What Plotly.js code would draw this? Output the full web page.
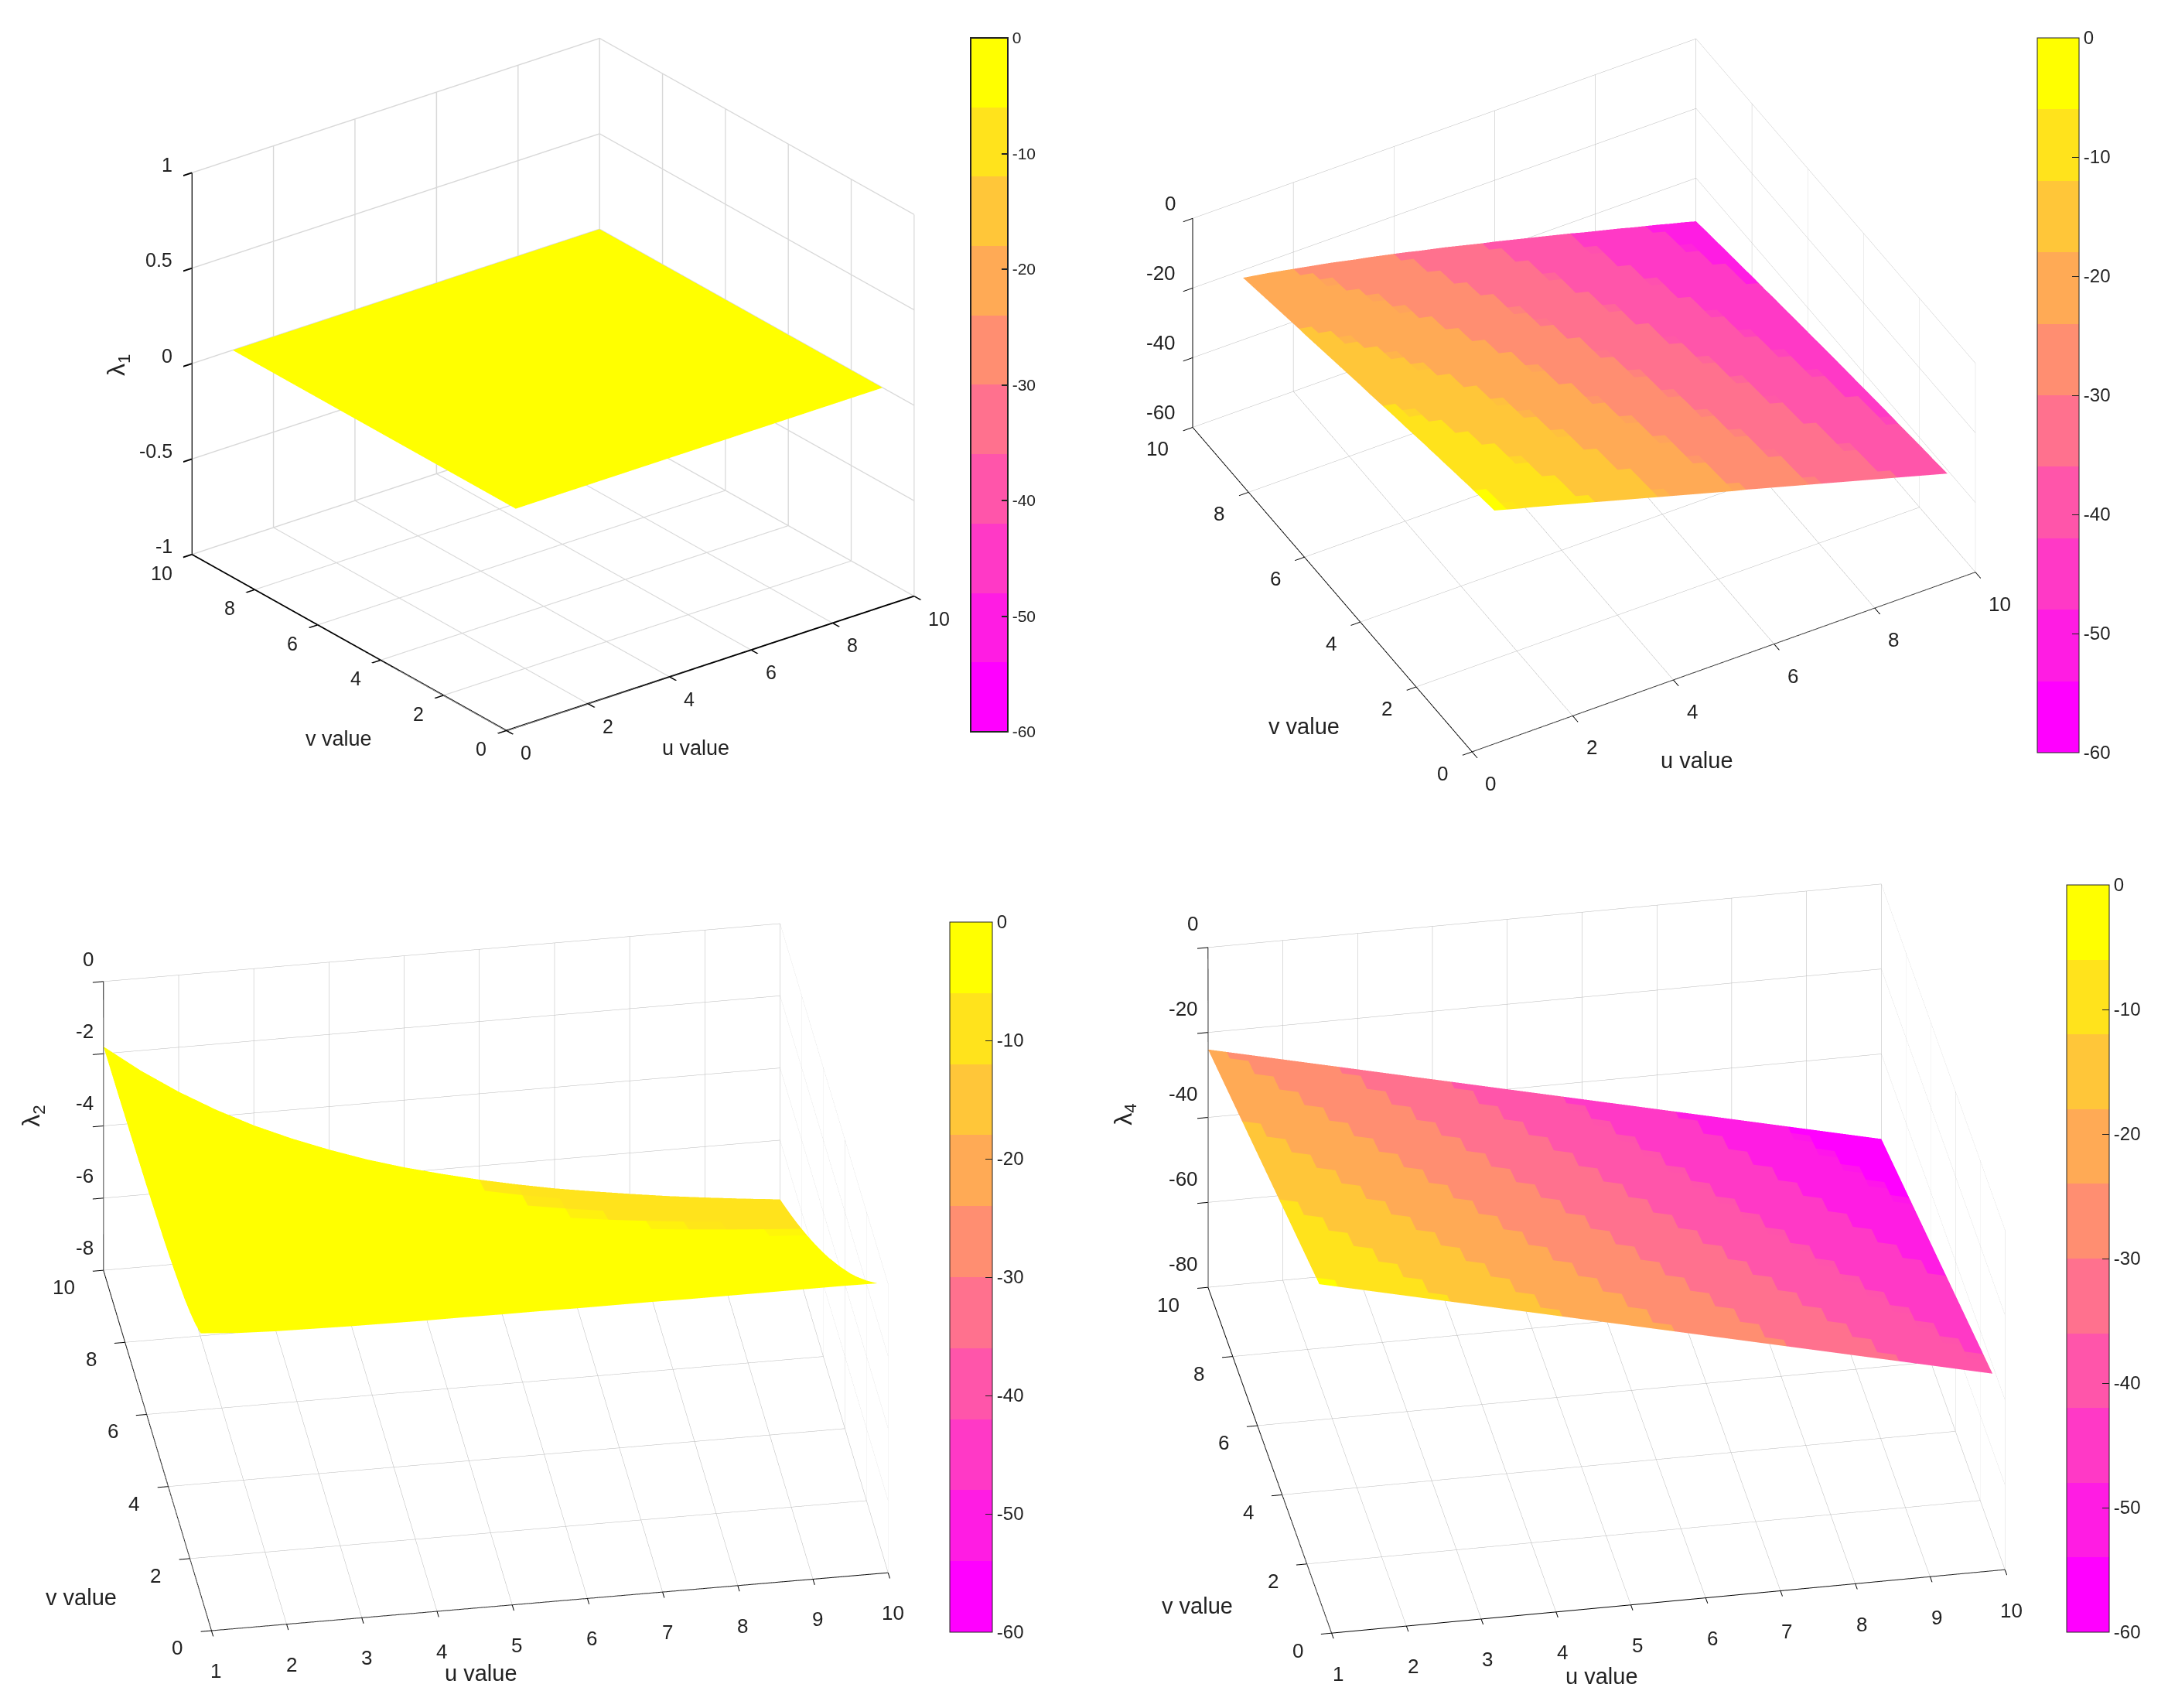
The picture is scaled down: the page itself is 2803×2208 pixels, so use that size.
<!DOCTYPE html>
<html><head><meta charset="utf-8"><script src="https://cdn.plot.ly/plotly-3.0.1.min.js"></script>
<style>html,body{margin:0;padding:0;background:#fff}</style></head><body><div id="c" style="width:2803px;height:2208px"></div>
<script>
const W=2803,H=2208;
const bandColors=['#ff00ff','#ff1ce3','#ff39c6','#ff55aa','#ff718e','#ff8e71','#ffaa55','#ffc639','#ffe31c','#ffff00'];
const cbTicks=[0,-10,-20,-30,-40,-50,-60];
const uFlat=[1,10],vFlat=[1,10];
const zLambda1=[[0,0],[0,0]];
const uGrid=[1,1.5,2,2.5,3,3.5,4,4.5,5,5.5,6,6.5,7,7.5,8,8.5,9,9.5,10];
const vGrid=[1,1.5,2,2.5,3,3.5,4,4.5,5,5.5,6,6.5,7,7.5,8,8.5,9,9.5,10];
const uFine=[1,1.25,1.5,1.75,2,2.25,2.5,2.75,3,3.25,3.5,3.75,4,4.25,4.5,4.75,5,5.25,5.5,5.75,6,6.25,6.5,6.75,7,7.25,7.5,7.75,8,8.25,8.5,8.75,9,9.25,9.5,9.75,10];
const vFine=[1,1.25,1.5,1.75,2,2.25,2.5,2.75,3,3.25,3.5,3.75,4,4.25,4.5,4.75,5,5.25,5.5,5.75,6,6.25,6.5,6.75,7,7.25,7.5,7.75,8,8.25,8.5,8.75,9,9.25,9.5,9.75,10];
// each row is one u value, each column one v value
const zLambda3=[
[-5.2,-5.6,-6,-6.4,-6.8,-7.3,-7.7,-8.2,-8.6,-9.1,-9.5,-10,-10.5,-11,-11.4,-11.9,-12.4,-12.9,-13.4,-13.8,-14.3,-14.8,-15.3,-15.8,-16.3,-16.8,-17.3,-17.8,-18.2,-18.7,-19.2,-19.7,-20.2,-20.7,-21.2,-21.7,-22.2],
[-6.2,-6.6,-6.9,-7.3,-7.7,-8.1,-8.6,-9,-9.4,-9.9,-10.3,-10.8,-11.2,-11.7,-12.2,-12.6,-13.1,-13.6,-14.1,-14.5,-15,-15.5,-16,-16.5,-17,-17.4,-17.9,-18.4,-18.9,-19.4,-19.9,-20.4,-20.9,-21.4,-21.8,-22.3,-22.8],
[-7.2,-7.5,-7.9,-8.2,-8.6,-9,-9.4,-9.8,-10.2,-10.7,-11.1,-11.6,-12,-12.5,-12.9,-13.4,-13.8,-14.3,-14.8,-15.2,-15.7,-16.2,-16.7,-17.1,-17.6,-18.1,-18.6,-19.1,-19.5,-20,-20.5,-21,-21.5,-22,-22.5,-23,-23.4],
[-8.1,-8.5,-8.8,-9.2,-9.5,-9.9,-10.3,-10.7,-11.1,-11.5,-12,-12.4,-12.8,-13.3,-13.7,-14.2,-14.6,-15.1,-15.5,-16,-16.5,-16.9,-17.4,-17.9,-18.3,-18.8,-19.3,-19.8,-20.2,-20.7,-21.2,-21.7,-22.2,-22.6,-23.1,-23.6,-24.1],
[-9.1,-9.4,-9.8,-10.1,-10.5,-10.8,-11.2,-11.6,-12,-12.4,-12.8,-13.2,-13.7,-14.1,-14.5,-15,-15.4,-15.9,-16.3,-16.8,-17.2,-17.7,-18.1,-18.6,-19.1,-19.5,-20,-20.5,-20.9,-21.4,-21.9,-22.4,-22.9,-23.3,-23.8,-24.3,-24.8],
[-10.1,-10.4,-10.8,-11.1,-11.4,-11.8,-12.2,-12.5,-12.9,-13.3,-13.7,-14.1,-14.5,-15,-15.4,-15.8,-16.2,-16.7,-17.1,-17.6,-18,-18.5,-18.9,-19.4,-19.8,-20.3,-20.8,-21.2,-21.7,-22.2,-22.6,-23.1,-23.6,-24.1,-24.5,-25,-25.5],
[-11.1,-11.4,-11.7,-12.1,-12.4,-12.8,-13.1,-13.5,-13.8,-14.2,-14.6,-15,-15.4,-15.8,-16.2,-16.7,-17.1,-17.5,-17.9,-18.4,-18.8,-19.3,-19.7,-20.2,-20.6,-21.1,-21.5,-22,-22.4,-22.9,-23.4,-23.8,-24.3,-24.8,-25.2,-25.7,-26.2],
[-12.1,-12.4,-12.7,-13,-13.4,-13.7,-14.1,-14.4,-14.8,-15.1,-15.5,-15.9,-16.3,-16.7,-17.1,-17.5,-17.9,-18.4,-18.8,-19.2,-19.7,-20.1,-20.5,-21,-21.4,-21.9,-22.3,-22.8,-23.2,-23.7,-24.1,-24.6,-25.1,-25.5,-26,-26.5,-26.9],
[-13.1,-13.4,-13.7,-14,-14.3,-14.7,-15,-15.4,-15.7,-16.1,-16.5,-16.8,-17.2,-17.6,-18,-18.4,-18.8,-19.2,-19.7,-20.1,-20.5,-21,-21.4,-21.8,-22.3,-22.7,-23.2,-23.6,-24.1,-24.5,-25,-25.4,-25.8,-26.3,-26.7,-27.2,-27.7],
[-14.1,-14.4,-14.7,-15,-15.3,-15.6,-16,-16.3,-16.6,-17,-17.4,-17.7,-18.1,-18.5,-18.9,-19.3,-19.7,-20.1,-20.5,-21,-21.4,-21.8,-22.2,-22.7,-23.1,-23.5,-24,-24.4,-24.8,-25.3,-25.7,-26.2,-26.6,-27.1,-27.5,-28,-28.5],
[-15.1,-15.4,-15.7,-16,-16.3,-16.6,-16.9,-17.3,-17.6,-18,-18.3,-18.7,-19.1,-19.4,-19.8,-20.2,-20.6,-21,-21.4,-21.8,-22.2,-22.6,-23.1,-23.5,-23.9,-24.3,-24.8,-25.2,-25.6,-26.1,-26.5,-27,-27.4,-27.9,-28.3,-28.8,-29.2],
[-16.1,-16.4,-16.7,-17,-17.3,-17.6,-17.9,-18.2,-18.5,-18.9,-19.3,-19.6,-20,-20.4,-20.8,-21.1,-21.5,-21.9,-22.3,-22.7,-23.1,-23.5,-23.9,-24.3,-24.8,-25.2,-25.6,-26.1,-26.5,-26.9,-27.3,-27.8,-28.2,-28.7,-29.1,-29.6,-30],
[-17.1,-17.4,-17.6,-17.9,-18.3,-18.6,-18.9,-19.2,-19.5,-19.9,-20.2,-20.6,-20.9,-21.3,-21.7,-22.1,-22.4,-22.8,-23.2,-23.6,-24,-24.4,-24.8,-25.2,-25.6,-26,-26.5,-26.9,-27.3,-27.7,-28.2,-28.6,-29,-29.5,-29.9,-30.4,-30.8],
[-18.1,-18.3,-18.6,-18.9,-19.2,-19.6,-19.9,-20.2,-20.5,-20.9,-21.2,-21.5,-21.9,-22.3,-22.6,-23,-23.4,-23.7,-24.1,-24.5,-24.9,-25.3,-25.7,-26.1,-26.5,-26.9,-27.4,-27.8,-28.2,-28.6,-29,-29.5,-29.9,-30.3,-30.8,-31.2,-31.6],
[-19.1,-19.3,-19.6,-19.9,-20.2,-20.5,-20.9,-21.2,-21.5,-21.9,-22.2,-22.5,-22.9,-23.2,-23.6,-24,-24.3,-24.7,-25.1,-25.5,-25.8,-26.2,-26.6,-27,-27.4,-27.8,-28.2,-28.7,-29,-29.5,-29.9,-30.3,-30.7,-31.2,-31.6,-32,-32.5],
[-20.1,-20.3,-20.6,-20.9,-21.2,-21.5,-21.8,-22.2,-22.5,-22.8,-23.1,-23.5,-23.8,-24.2,-24.5,-24.9,-25.2,-25.6,-26,-26.4,-26.7,-27.1,-27.5,-27.9,-28.3,-28.7,-29.1,-29.5,-29.9,-30.3,-30.8,-31.2,-31.6,-32,-32.4,-32.9,-33.3],
[-21.1,-21.3,-21.6,-21.9,-22.2,-22.5,-22.8,-23.1,-23.4,-23.8,-24.1,-24.4,-24.8,-25.1,-25.5,-25.8,-26.2,-26.5,-26.9,-27.3,-27.7,-28,-28.4,-28.8,-29.2,-29.6,-30,-30.4,-30.8,-31.2,-31.6,-32,-32.5,-32.9,-33.3,-33.7,-34.1],
[-22.1,-22.3,-22.6,-22.9,-23.2,-23.5,-23.8,-24.1,-24.4,-24.7,-25.1,-25.4,-25.7,-26.1,-26.4,-26.8,-27.1,-27.5,-27.9,-28.2,-28.6,-29,-29.4,-29.8,-30.1,-30.5,-30.9,-31.3,-31.7,-32.1,-32.5,-32.9,-33.3,-33.7,-34.2,-34.6,-35],
[-23.1,-23.3,-23.6,-23.9,-24.2,-24.5,-24.8,-25.1,-25.4,-25.7,-26,-26.4,-26.7,-27,-27.4,-27.7,-28.1,-28.5,-28.8,-29.2,-29.5,-29.9,-30.3,-30.7,-31,-31.4,-31.8,-32.2,-32.6,-33,-33.4,-33.8,-34.2,-34.6,-35,-35.4,-35.9],
[-24.1,-24.3,-24.6,-24.9,-25.2,-25.5,-25.8,-26.1,-26.4,-26.7,-27,-27.3,-27.7,-28,-28.4,-28.7,-29,-29.4,-29.8,-30.1,-30.5,-30.9,-31.2,-31.6,-32,-32.4,-32.7,-33.1,-33.5,-33.9,-34.3,-34.7,-35.1,-35.5,-35.9,-36.3,-36.8],
[-25,-25.3,-25.6,-25.9,-26.2,-26.5,-26.8,-27,-27.4,-27.7,-28,-28.3,-28.7,-29,-29.3,-29.7,-30,-30.3,-30.7,-31.1,-31.4,-31.8,-32.2,-32.5,-32.9,-33.3,-33.7,-34,-34.4,-34.8,-35.2,-35.6,-36,-36.4,-36.8,-37.2,-37.6],
[-26,-26.3,-26.6,-26.9,-27.2,-27.4,-27.8,-28,-28.4,-28.7,-29,-29.3,-29.6,-30,-30.3,-30.6,-31,-31.3,-31.7,-32,-32.4,-32.7,-33.1,-33.5,-33.8,-34.2,-34.6,-35,-35.3,-35.7,-36.1,-36.5,-36.9,-37.3,-37.7,-38.1,-38.5],
[-27,-27.3,-27.6,-27.9,-28.2,-28.4,-28.7,-29,-29.3,-29.6,-30,-30.3,-30.6,-31,-31.3,-31.6,-31.9,-32.3,-32.6,-33,-33.3,-33.7,-34,-34.4,-34.8,-35.1,-35.5,-35.9,-36.3,-36.6,-37,-37.4,-37.8,-38.2,-38.6,-39,-39.4],
[-28,-28.3,-28.6,-28.9,-29.2,-29.4,-29.7,-30,-30.3,-30.6,-30.9,-31.3,-31.6,-31.9,-32.2,-32.6,-32.9,-33.2,-33.6,-33.9,-34.3,-34.6,-35,-35.3,-35.7,-36.1,-36.4,-36.8,-37.2,-37.6,-38,-38.3,-38.7,-39.1,-39.5,-39.9,-40.3],
[-29,-29.3,-29.6,-29.9,-30.1,-30.4,-30.7,-31,-31.3,-31.6,-31.9,-32.2,-32.6,-32.9,-33.2,-33.5,-33.9,-34.2,-34.5,-34.9,-35.2,-35.6,-35.9,-36.3,-36.7,-37,-37.4,-37.8,-38.1,-38.5,-38.9,-39.3,-39.6,-40,-40.4,-40.8,-41.2],
[-30,-30.3,-30.6,-30.9,-31.1,-31.4,-31.7,-32,-32.3,-32.6,-32.9,-33.2,-33.5,-33.9,-34.2,-34.5,-34.8,-35.2,-35.5,-35.9,-36.2,-36.6,-36.9,-37.2,-37.6,-38,-38.3,-38.7,-39.1,-39.4,-39.8,-40.2,-40.6,-41,-41.3,-41.7,-42.1],
[-31,-31.3,-31.6,-31.9,-32.1,-32.4,-32.7,-33,-33.3,-33.6,-33.9,-34.2,-34.5,-34.8,-35.2,-35.5,-35.8,-36.1,-36.5,-36.8,-37.2,-37.5,-37.8,-38.2,-38.6,-38.9,-39.3,-39.6,-40,-40.4,-40.7,-41.1,-41.5,-41.9,-42.3,-42.6,-43],
[-32,-32.3,-32.6,-32.9,-33.1,-33.4,-33.7,-34,-34.3,-34.6,-34.9,-35.2,-35.5,-35.8,-36.1,-36.5,-36.8,-37.1,-37.5,-37.8,-38.1,-38.5,-38.8,-39.2,-39.5,-39.9,-40.2,-40.6,-41,-41.3,-41.7,-42.1,-42.4,-42.8,-43.2,-43.6,-44],
[-33,-33.3,-33.6,-33.9,-34.1,-34.4,-34.7,-35,-35.3,-35.6,-35.9,-36.2,-36.5,-36.8,-37.1,-37.4,-37.8,-38.1,-38.4,-38.8,-39.1,-39.4,-39.8,-40.1,-40.5,-40.8,-41.2,-41.5,-41.9,-42.3,-42.6,-43,-43.4,-43.7,-44.1,-44.5,-44.9],
[-34,-34.3,-34.6,-34.8,-35.1,-35.4,-35.7,-36,-36.3,-36.6,-36.9,-37.2,-37.5,-37.8,-38.1,-38.4,-38.7,-39.1,-39.4,-39.7,-40.1,-40.4,-40.7,-41.1,-41.4,-41.8,-42.1,-42.5,-42.8,-43.2,-43.6,-43.9,-44.3,-44.7,-45,-45.4,-45.8],
[-35,-35.3,-35.6,-35.8,-36.1,-36.4,-36.7,-37,-37.3,-37.6,-37.9,-38.2,-38.5,-38.8,-39.1,-39.4,-39.7,-40,-40.4,-40.7,-41,-41.3,-41.7,-42,-42.4,-42.7,-43.1,-43.4,-43.8,-44.1,-44.5,-44.9,-45.2,-45.6,-46,-46.3,-46.7],
[-36,-36.3,-36.6,-36.8,-37.1,-37.4,-37.7,-38,-38.3,-38.5,-38.9,-39.1,-39.5,-39.8,-40.1,-40.4,-40.7,-41,-41.4,-41.7,-42,-42.3,-42.7,-43,-43.4,-43.7,-44,-44.4,-44.8,-45.1,-45.5,-45.8,-46.2,-46.5,-46.9,-47.3,-47.7],
[-37,-37.3,-37.6,-37.8,-38.1,-38.4,-38.7,-39,-39.3,-39.5,-39.8,-40.1,-40.4,-40.8,-41.1,-41.4,-41.7,-42,-42.3,-42.6,-43,-43.3,-43.6,-44,-44.3,-44.7,-45,-45.4,-45.7,-46.1,-46.4,-46.8,-47.1,-47.5,-47.9,-48.2,-48.6],
[-38,-38.3,-38.6,-38.8,-39.1,-39.4,-39.7,-40,-40.3,-40.5,-40.8,-41.1,-41.4,-41.7,-42,-42.4,-42.7,-43,-43.3,-43.6,-44,-44.3,-44.6,-44.9,-45.3,-45.6,-46,-46.3,-46.7,-47,-47.4,-47.7,-48.1,-48.4,-48.8,-49.2,-49.5],
[-39,-39.3,-39.6,-39.8,-40.1,-40.4,-40.7,-41,-41.2,-41.5,-41.8,-42.1,-42.4,-42.7,-43,-43.3,-43.7,-44,-44.3,-44.6,-44.9,-45.2,-45.6,-45.9,-46.2,-46.6,-46.9,-47.2,-47.6,-47.9,-48.3,-48.6,-49,-49.3,-49.7,-50.1,-50.5],
[-40,-40.3,-40.6,-40.8,-41.1,-41.4,-41.7,-42,-42.2,-42.5,-42.8,-43.1,-43.4,-43.7,-44,-44.3,-44.6,-45,-45.3,-45.6,-45.9,-46.2,-46.6,-46.9,-47.2,-47.6,-47.9,-48.2,-48.6,-48.9,-49.3,-49.6,-50,-50.3,-50.7,-51.1,-51.4],
[-41,-41.3,-41.6,-41.8,-42.1,-42.4,-42.7,-43,-43.2,-43.5,-43.8,-44.1,-44.4,-44.7,-45,-45.3,-45.6,-45.9,-46.2,-46.6,-46.9,-47.2,-47.5,-47.9,-48.2,-48.5,-48.9,-49.2,-49.5,-49.9,-50.2,-50.6,-50.9,-51.3,-51.6,-52,-52.4]];
const zLambda2=[
[-0.76,-1,-1.17,-1.3,-1.39,-1.47,-1.53,-1.58,-1.61,-1.65,-1.68,-1.7,-1.72,-1.74,-1.75,-1.77,-1.78,-1.79,-1.8],
[-0.84,-1.15,-1.39,-1.59,-1.76,-1.89,-2,-2.09,-2.17,-2.24,-2.29,-2.34,-2.38,-2.42,-2.46,-2.49,-2.51,-2.54,-2.56],
[-0.88,-1.23,-1.53,-1.78,-2,-2.18,-2.34,-2.48,-2.6,-2.7,-2.79,-2.87,-2.94,-3,-3.06,-3.11,-3.15,-3.19,-3.23],
[-0.9,-1.28,-1.61,-1.91,-2.17,-2.4,-2.6,-2.77,-2.93,-3.07,-3.19,-3.3,-3.4,-3.49,-3.57,-3.64,-3.7,-3.76,-3.82],
[-0.92,-1.32,-1.68,-2,-2.29,-2.55,-2.79,-3,-3.19,-3.36,-3.51,-3.65,-3.78,-3.9,-4,-4.1,-4.18,-4.26,-4.34],
[-0.93,-1.34,-1.72,-2.07,-2.38,-2.67,-2.94,-3.18,-3.4,-3.6,-3.78,-3.95,-4.1,-4.24,-4.37,-4.49,-4.6,-4.7,-4.79],
[-0.94,-1.36,-1.75,-2.12,-2.46,-2.77,-3.06,-3.32,-3.57,-3.79,-4,-4.19,-4.37,-4.53,-4.69,-4.83,-4.96,-5.08,-5.19],
[-0.94,-1.38,-1.78,-2.16,-2.51,-2.84,-3.15,-3.44,-3.7,-3.95,-4.18,-4.4,-4.6,-4.78,-4.96,-5.12,-5.27,-5.41,-5.55],
[-0.95,-1.39,-1.8,-2.19,-2.56,-2.91,-3.23,-3.53,-3.82,-4.09,-4.34,-4.57,-4.79,-5,-5.19,-5.38,-5.55,-5.71,-5.86],
[-0.95,-1.4,-1.82,-2.22,-2.6,-2.96,-3.3,-3.62,-3.92,-4.2,-4.47,-4.72,-4.96,-5.19,-5.4,-5.6,-5.79,-5.97,-6.13],
[-0.96,-1.41,-1.83,-2.24,-2.63,-3,-3.35,-3.68,-4,-4.3,-4.58,-4.85,-5.11,-5.35,-5.58,-5.79,-6,-6.19,-6.38],
[-0.96,-1.41,-1.85,-2.26,-2.66,-3.04,-3.4,-3.74,-4.07,-4.38,-4.68,-4.97,-5.24,-5.49,-5.74,-5.97,-6.19,-6.4,-6.6],
[-0.96,-1.42,-1.86,-2.28,-2.68,-3.07,-3.44,-3.79,-4.13,-4.46,-4.77,-5.06,-5.35,-5.62,-5.88,-6.12,-6.36,-6.58,-6.8],
[-0.97,-1.43,-1.87,-2.29,-2.7,-3.1,-3.48,-3.84,-4.19,-4.52,-4.84,-5.15,-5.45,-5.73,-6,-6.26,-6.51,-6.74,-6.97],
[-0.97,-1.43,-1.88,-2.31,-2.72,-3.12,-3.51,-3.88,-4.24,-4.58,-4.91,-5.23,-5.54,-5.83,-6.11,-6.38,-6.64,-6.89,-7.13],
[-0.97,-1.43,-1.88,-2.32,-2.74,-3.14,-3.54,-3.91,-4.28,-4.63,-4.97,-5.3,-5.62,-5.92,-6.21,-6.49,-6.76,-7.03,-7.28],
[-0.97,-1.44,-1.89,-2.33,-2.75,-3.16,-3.56,-3.95,-4.32,-4.68,-5.03,-5.36,-5.69,-6,-6.3,-6.59,-6.88,-7.15,-7.41],
[-0.97,-1.44,-1.9,-2.34,-2.76,-3.18,-3.58,-3.97,-4.35,-4.72,-5.08,-5.42,-5.75,-6.07,-6.38,-6.69,-6.98,-7.26,-7.53],
[-0.98,-1.44,-1.9,-2.34,-2.78,-3.2,-3.6,-4,-4.38,-4.76,-5.12,-5.47,-5.81,-6.14,-6.46,-6.77,-7.07,-7.36,-7.64]];
const zLambda4=[
[-6,-6.5,-7,-7.5,-8,-8.5,-9,-9.5,-10,-10.5,-11,-11.5,-12,-12.5,-13,-13.5,-14,-14.5,-15,-15.5,-16,-16.5,-17,-17.5,-18,-18.5,-19,-19.5,-20,-20.5,-21,-21.5,-22,-22.5,-23,-23.5,-24],
[-7,-7.5,-8,-8.5,-9,-9.5,-10,-10.5,-11,-11.5,-12,-12.5,-13,-13.5,-14,-14.5,-15,-15.5,-16,-16.5,-17,-17.5,-18,-18.5,-19,-19.5,-20,-20.5,-21,-21.5,-22,-22.5,-23,-23.5,-24,-24.5,-25],
[-8,-8.5,-9,-9.5,-10,-10.5,-11,-11.5,-12,-12.5,-13,-13.5,-14,-14.5,-15,-15.5,-16,-16.5,-17,-17.5,-18,-18.5,-19,-19.5,-20,-20.5,-21,-21.5,-22,-22.5,-23,-23.5,-24,-24.5,-25,-25.5,-26],
[-9,-9.5,-10,-10.5,-11,-11.5,-12,-12.5,-13,-13.5,-14,-14.5,-15,-15.5,-16,-16.5,-17,-17.5,-18,-18.5,-19,-19.5,-20,-20.5,-21,-21.5,-22,-22.5,-23,-23.5,-24,-24.5,-25,-25.5,-26,-26.5,-27],
[-10,-10.5,-11,-11.5,-12,-12.5,-13,-13.5,-14,-14.5,-15,-15.5,-16,-16.5,-17,-17.5,-18,-18.5,-19,-19.5,-20,-20.5,-21,-21.5,-22,-22.5,-23,-23.5,-24,-24.5,-25,-25.5,-26,-26.5,-27,-27.5,-28],
[-11,-11.5,-12,-12.5,-13,-13.5,-14,-14.5,-15,-15.5,-16,-16.5,-17,-17.5,-18,-18.5,-19,-19.5,-20,-20.5,-21,-21.5,-22,-22.5,-23,-23.5,-24,-24.5,-25,-25.5,-26,-26.5,-27,-27.5,-28,-28.5,-29],
[-12,-12.5,-13,-13.5,-14,-14.5,-15,-15.5,-16,-16.5,-17,-17.5,-18,-18.5,-19,-19.5,-20,-20.5,-21,-21.5,-22,-22.5,-23,-23.5,-24,-24.5,-25,-25.5,-26,-26.5,-27,-27.5,-28,-28.5,-29,-29.5,-30],
[-13,-13.5,-14,-14.5,-15,-15.5,-16,-16.5,-17,-17.5,-18,-18.5,-19,-19.5,-20,-20.5,-21,-21.5,-22,-22.5,-23,-23.5,-24,-24.5,-25,-25.5,-26,-26.5,-27,-27.5,-28,-28.5,-29,-29.5,-30,-30.5,-31],
[-14,-14.5,-15,-15.5,-16,-16.5,-17,-17.5,-18,-18.5,-19,-19.5,-20,-20.5,-21,-21.5,-22,-22.5,-23,-23.5,-24,-24.5,-25,-25.5,-26,-26.5,-27,-27.5,-28,-28.5,-29,-29.5,-30,-30.5,-31,-31.5,-32],
[-15,-15.5,-16,-16.5,-17,-17.5,-18,-18.5,-19,-19.5,-20,-20.5,-21,-21.5,-22,-22.5,-23,-23.5,-24,-24.5,-25,-25.5,-26,-26.5,-27,-27.5,-28,-28.5,-29,-29.5,-30,-30.5,-31,-31.5,-32,-32.5,-33],
[-16,-16.5,-17,-17.5,-18,-18.5,-19,-19.5,-20,-20.5,-21,-21.5,-22,-22.5,-23,-23.5,-24,-24.5,-25,-25.5,-26,-26.5,-27,-27.5,-28,-28.5,-29,-29.5,-30,-30.5,-31,-31.5,-32,-32.5,-33,-33.5,-34],
[-17,-17.5,-18,-18.5,-19,-19.5,-20,-20.5,-21,-21.5,-22,-22.5,-23,-23.5,-24,-24.5,-25,-25.5,-26,-26.5,-27,-27.5,-28,-28.5,-29,-29.5,-30,-30.5,-31,-31.5,-32,-32.5,-33,-33.5,-34,-34.5,-35],
[-18,-18.5,-19,-19.5,-20,-20.5,-21,-21.5,-22,-22.5,-23,-23.5,-24,-24.5,-25,-25.5,-26,-26.5,-27,-27.5,-28,-28.5,-29,-29.5,-30,-30.5,-31,-31.5,-32,-32.5,-33,-33.5,-34,-34.5,-35,-35.5,-36],
[-19,-19.5,-20,-20.5,-21,-21.5,-22,-22.5,-23,-23.5,-24,-24.5,-25,-25.5,-26,-26.5,-27,-27.5,-28,-28.5,-29,-29.5,-30,-30.5,-31,-31.5,-32,-32.5,-33,-33.5,-34,-34.5,-35,-35.5,-36,-36.5,-37],
[-20,-20.5,-21,-21.5,-22,-22.5,-23,-23.5,-24,-24.5,-25,-25.5,-26,-26.5,-27,-27.5,-28,-28.5,-29,-29.5,-30,-30.5,-31,-31.5,-32,-32.5,-33,-33.5,-34,-34.5,-35,-35.5,-36,-36.5,-37,-37.5,-38],
[-21,-21.5,-22,-22.5,-23,-23.5,-24,-24.5,-25,-25.5,-26,-26.5,-27,-27.5,-28,-28.5,-29,-29.5,-30,-30.5,-31,-31.5,-32,-32.5,-33,-33.5,-34,-34.5,-35,-35.5,-36,-36.5,-37,-37.5,-38,-38.5,-39],
[-22,-22.5,-23,-23.5,-24,-24.5,-25,-25.5,-26,-26.5,-27,-27.5,-28,-28.5,-29,-29.5,-30,-30.5,-31,-31.5,-32,-32.5,-33,-33.5,-34,-34.5,-35,-35.5,-36,-36.5,-37,-37.5,-38,-38.5,-39,-39.5,-40],
[-23,-23.5,-24,-24.5,-25,-25.5,-26,-26.5,-27,-27.5,-28,-28.5,-29,-29.5,-30,-30.5,-31,-31.5,-32,-32.5,-33,-33.5,-34,-34.5,-35,-35.5,-36,-36.5,-37,-37.5,-38,-38.5,-39,-39.5,-40,-40.5,-41],
[-24,-24.5,-25,-25.5,-26,-26.5,-27,-27.5,-28,-28.5,-29,-29.5,-30,-30.5,-31,-31.5,-32,-32.5,-33,-33.5,-34,-34.5,-35,-35.5,-36,-36.5,-37,-37.5,-38,-38.5,-39,-39.5,-40,-40.5,-41,-41.5,-42],
[-25,-25.5,-26,-26.5,-27,-27.5,-28,-28.5,-29,-29.5,-30,-30.5,-31,-31.5,-32,-32.5,-33,-33.5,-34,-34.5,-35,-35.5,-36,-36.5,-37,-37.5,-38,-38.5,-39,-39.5,-40,-40.5,-41,-41.5,-42,-42.5,-43],
[-26,-26.5,-27,-27.5,-28,-28.5,-29,-29.5,-30,-30.5,-31,-31.5,-32,-32.5,-33,-33.5,-34,-34.5,-35,-35.5,-36,-36.5,-37,-37.5,-38,-38.5,-39,-39.5,-40,-40.5,-41,-41.5,-42,-42.5,-43,-43.5,-44],
[-27,-27.5,-28,-28.5,-29,-29.5,-30,-30.5,-31,-31.5,-32,-32.5,-33,-33.5,-34,-34.5,-35,-35.5,-36,-36.5,-37,-37.5,-38,-38.5,-39,-39.5,-40,-40.5,-41,-41.5,-42,-42.5,-43,-43.5,-44,-44.5,-45],
[-28,-28.5,-29,-29.5,-30,-30.5,-31,-31.5,-32,-32.5,-33,-33.5,-34,-34.5,-35,-35.5,-36,-36.5,-37,-37.5,-38,-38.5,-39,-39.5,-40,-40.5,-41,-41.5,-42,-42.5,-43,-43.5,-44,-44.5,-45,-45.5,-46],
[-29,-29.5,-30,-30.5,-31,-31.5,-32,-32.5,-33,-33.5,-34,-34.5,-35,-35.5,-36,-36.5,-37,-37.5,-38,-38.5,-39,-39.5,-40,-40.5,-41,-41.5,-42,-42.5,-43,-43.5,-44,-44.5,-45,-45.5,-46,-46.5,-47],
[-30,-30.5,-31,-31.5,-32,-32.5,-33,-33.5,-34,-34.5,-35,-35.5,-36,-36.5,-37,-37.5,-38,-38.5,-39,-39.5,-40,-40.5,-41,-41.5,-42,-42.5,-43,-43.5,-44,-44.5,-45,-45.5,-46,-46.5,-47,-47.5,-48],
[-31,-31.5,-32,-32.5,-33,-33.5,-34,-34.5,-35,-35.5,-36,-36.5,-37,-37.5,-38,-38.5,-39,-39.5,-40,-40.5,-41,-41.5,-42,-42.5,-43,-43.5,-44,-44.5,-45,-45.5,-46,-46.5,-47,-47.5,-48,-48.5,-49],
[-32,-32.5,-33,-33.5,-34,-34.5,-35,-35.5,-36,-36.5,-37,-37.5,-38,-38.5,-39,-39.5,-40,-40.5,-41,-41.5,-42,-42.5,-43,-43.5,-44,-44.5,-45,-45.5,-46,-46.5,-47,-47.5,-48,-48.5,-49,-49.5,-50],
[-33,-33.5,-34,-34.5,-35,-35.5,-36,-36.5,-37,-37.5,-38,-38.5,-39,-39.5,-40,-40.5,-41,-41.5,-42,-42.5,-43,-43.5,-44,-44.5,-45,-45.5,-46,-46.5,-47,-47.5,-48,-48.5,-49,-49.5,-50,-50.5,-51],
[-34,-34.5,-35,-35.5,-36,-36.5,-37,-37.5,-38,-38.5,-39,-39.5,-40,-40.5,-41,-41.5,-42,-42.5,-43,-43.5,-44,-44.5,-45,-45.5,-46,-46.5,-47,-47.5,-48,-48.5,-49,-49.5,-50,-50.5,-51,-51.5,-52],
[-35,-35.5,-36,-36.5,-37,-37.5,-38,-38.5,-39,-39.5,-40,-40.5,-41,-41.5,-42,-42.5,-43,-43.5,-44,-44.5,-45,-45.5,-46,-46.5,-47,-47.5,-48,-48.5,-49,-49.5,-50,-50.5,-51,-51.5,-52,-52.5,-53],
[-36,-36.5,-37,-37.5,-38,-38.5,-39,-39.5,-40,-40.5,-41,-41.5,-42,-42.5,-43,-43.5,-44,-44.5,-45,-45.5,-46,-46.5,-47,-47.5,-48,-48.5,-49,-49.5,-50,-50.5,-51,-51.5,-52,-52.5,-53,-53.5,-54],
[-37,-37.5,-38,-38.5,-39,-39.5,-40,-40.5,-41,-41.5,-42,-42.5,-43,-43.5,-44,-44.5,-45,-45.5,-46,-46.5,-47,-47.5,-48,-48.5,-49,-49.5,-50,-50.5,-51,-51.5,-52,-52.5,-53,-53.5,-54,-54.5,-55],
[-38,-38.5,-39,-39.5,-40,-40.5,-41,-41.5,-42,-42.5,-43,-43.5,-44,-44.5,-45,-45.5,-46,-46.5,-47,-47.5,-48,-48.5,-49,-49.5,-50,-50.5,-51,-51.5,-52,-52.5,-53,-53.5,-54,-54.5,-55,-55.5,-56],
[-39,-39.5,-40,-40.5,-41,-41.5,-42,-42.5,-43,-43.5,-44,-44.5,-45,-45.5,-46,-46.5,-47,-47.5,-48,-48.5,-49,-49.5,-50,-50.5,-51,-51.5,-52,-52.5,-53,-53.5,-54,-54.5,-55,-55.5,-56,-56.5,-57],
[-40,-40.5,-41,-41.5,-42,-42.5,-43,-43.5,-44,-44.5,-45,-45.5,-46,-46.5,-47,-47.5,-48,-48.5,-49,-49.5,-50,-50.5,-51,-51.5,-52,-52.5,-53,-53.5,-54,-54.5,-55,-55.5,-56,-56.5,-57,-57.5,-58],
[-41,-41.5,-42,-42.5,-43,-43.5,-44,-44.5,-45,-45.5,-46,-46.5,-47,-47.5,-48,-48.5,-49,-49.5,-50,-50.5,-51,-51.5,-52,-52.5,-53,-53.5,-54,-54.5,-55,-55.5,-56,-56.5,-57,-57.5,-58,-58.5,-59],
[-42,-42.5,-43,-43.5,-44,-44.5,-45,-45.5,-46,-46.5,-47,-47.5,-48,-48.5,-49,-49.5,-50,-50.5,-51,-51.5,-52,-52.5,-53,-53.5,-54,-54.5,-55,-55.5,-56,-56.5,-57,-57.5,-58,-58.5,-59,-59.5,-60]];
const evenTicks=[0,2,4,6,8,10];
const unitTicks=[1,2,3,4,5,6,7,8,9,10];
const z1Ticks=[-1,-0.5,0,0.5,1];
const z3Ticks=[-60,-40,-20,0];
const z2Ticks=[-8,-6,-4,-2,0];
const z4Ticks=[-80,-60,-40,-20,0];
const scale=[];bandColors.forEach((c,i)=>{scale.push([i/10,c]);scale.push([(i+1)/10,c]);});
function mesh(u,v,z,scene,cb,eps){
  const x=[],y=[],zz=[],I=[],J=[],K=[],c=[];const n=u.length,m=v.length;
  for(let i=0;i<n;i++)for(let j=0;j<m;j++){x.push(u[i]);y.push(v[j]);zz.push(z[i][j]);}
  for(let i=0;i<n-1;i++)for(let j=0;j<m-1;j++){const a=i*m+j,b=(i+1)*m+j,d=a+1,e=b+1;I.push(a,a);J.push(b,e);K.push(e,d);c.push(z[i][j]+eps,z[i][j]+eps);}
  return {type:'mesh3d',x,y,z:zz,i:I,j:J,k:K,intensity:c,intensitymode:'cell',colorscale:scale,cmin:-60,cmax:0,scene,flatshading:true,hoverinfo:'skip',
    lighting:{ambient:1,diffuse:0,specular:0,roughness:1,fresnel:0},
    colorbar:{x:cb.l/W,xanchor:'left',xpad:0,y:1-cb.t/H,yanchor:'top',ypad:0,lenmode:'pixels',len:cb.b-cb.t,thicknessmode:'pixels',thickness:cb.r-cb.l,
      tickmode:'array',tickvals:cbTicks,ticktext:cbTicks.map(String),ticks:'inside',ticklen:9,tickwidth:cb.lw,tickcolor:'#222',outlinecolor:'#222',outlinewidth:cb.lw,tickfont:{family:'Liberation Sans',size:cb.fs,color:'#222'}}};
}
function sceneOf(s){
  const th=s.th*Math.PI/180,ph=s.ph*Math.PI/180,r=s.r;
  const ax=(o)=>Object.assign({showbackground:false,showgrid:true,gridcolor:s.grid,gridwidth:s.gw,zeroline:false,showline:true,linecolor:'#000',linewidth:s.lw,ticks:'outside',ticklen:s.tl,tickcolor:'#000',tickwidth:s.lw,showspikes:false,showticklabels:false,tickmode:'array',title:{text:''}},o);
  const lab=(x,y,z,t,L)=>({x,y,z,text:String(t),showarrow:false,xanchor:L[2],yanchor:'middle',xshift:L[0],yshift:-L[1],font:{family:'Liberation Sans',size:s.fs,color:'#222'}});
  const umin=s.xa.range[0],vmin=s.ya.range[0],vmax=s.ya.range[1],zmin=s.za.range[0];
  const annotations=[...s.xa.tickvals.map(t=>lab(t,vmin,zmin,t,s.uL)),...s.ya.tickvals.map(t=>lab(umin,t,zmin,t,s.vL)),...s.za.tickvals.map(t=>lab(umin,vmax,t,t,s.zL))];
  return {domain:{x:[s.cx/W-s.hw/W,s.cx/W+s.hw/W],y:[1-(s.cy+s.hh)/H,1-(s.cy-s.hh)/H]},annotations,
    aspectmode:'manual',aspectratio:{x:s.a*r/(2*s.hh),y:s.b*r/(2*s.hh),z:s.c*r/(2*s.hh)},
    camera:{projection:{type:'orthographic'},up:{x:0,y:0,z:1},center:{x:0,y:0,z:0},eye:{x:-Math.sin(th)*Math.cos(ph)*r,y:-Math.cos(th)*Math.cos(ph)*r,z:Math.sin(ph)*r}},
    xaxis:ax(s.xa),yaxis:ax(s.ya),zaxis:ax(s.za)};
}
const k=1.788;
const S1={cx:714.6,cy:497,hw:536,hh:497,th:37.5,ph:25.45,a:664.4,b:668,c:546.4,r:2,lw:4,gw:3,tl:14,fs:25,grid:'#d8d8d8',
  uL:[17,29,'left'],vL:[-23,24,'right'],zL:[-23,-10.5,'right'],
  xa:{range:[0,10],tickvals:evenTicks},ya:{range:[0,10],tickvals:evenTicks},za:{range:[-1,1],tickvals:z1Ticks}};
const S2={cx:2048.2,cy:511,hw:600,hh:507,th:29,ph:40.07,a:744.1,b:745,c:353,r:2,lw:2,gw:1,tl:14,fs:26,grid:'#b8b8b8',
  uL:[15,41,'left'],vL:[-29,28,'right'],zL:[-20,-19,'right'],
  xa:{range:[0,10],tickvals:evenTicks},ya:{range:[0,10],tickvals:evenTicks},za:{range:[-60,0],tickvals:z3Ticks}};
const S3={cx:640.9,cy:1651,hw:640,hh:557,th:9.1,ph:32.3,a:886,b:883,c:441.6,r:2,lw:2,gw:1,tl:14,fs:26,grid:'#b8b8b8',
  uL:[6,52,'center'],vL:[-35,22,'right'],zL:[-11,-29,'right'],
  xa:{range:[1,10],tickvals:unitTicks},ya:{range:[0,10],tickvals:evenTicks},za:{range:[-8,0],tickvals:z2Ticks}};
const S4={cx:2077.4,cy:1627.4,hw:700,hh:580,th:10.4,ph:30.9,a:885.1,b:885,c:512,r:2,lw:2,gw:1,tl:14,fs:26,grid:'#b8b8b8',
  uL:[8,52,'center'],vL:[-35,22,'right'],zL:[-11,-31,'right'],
  xa:{range:[1,10],tickvals:unitTicks},ya:{range:[0,10],tickvals:evenTicks},za:{range:[-80,0],tickvals:z4Ticks}};
const data=[
 mesh(uFlat,vFlat,zLambda1,'scene',{l:1255,r:1303,t:49,b:946,lw:2,fs:21},0),
 mesh(uFine,vFine,zLambda3,'scene2',{l:2634,r:2688,t:49,b:973,lw:1,fs:24},0.02),
 mesh(uGrid,vGrid,zLambda2,'scene3',{l:1228,r:1283,t:1192,b:2110,lw:1,fs:24},0.02),
 mesh(uFine,vFine,zLambda4,'scene4',{l:2672,r:2727,t:1144,b:2110,lw:1,fs:24},0.15)];
const note=(t,px,py,fs,ang)=>({text:t,xref:'paper',yref:'paper',x:px*k/W,y:1-py*k/H,xanchor:'center',yanchor:'middle',showarrow:false,textangle:ang||0,font:{family:'Liberation Sans',size:fs,color:'#222'}});
const layout={width:W,height:H,margin:{l:0,r:0,t:0,b:0},paper_bgcolor:'#fff',showlegend:false,hovermode:false,
 scene:sceneOf(S1),scene2:sceneOf(S2),scene3:sceneOf(S3),scene4:sceneOf(S4),
 annotations:[note('u value',503,541,27),note('v value',245,534,27),note('λ<sub>1</sub>',85,264,32,-90),
  note('u value',1227,550,29),note('v value',943,525,29),
  note('u value',348,1210,29),note('v value',59,1155,29),note('λ<sub>2</sub>',24,807,32,-90),
  note('u value',1158,1212,29),note('v value',866,1161,29),note('λ<sub>4</sub>',813,806,32,-90)]};
window.addEventListener('load',()=>setTimeout(()=>Plotly.newPlot('c',data,layout,{displayModeBar:false}),0));
</script></body></html>
